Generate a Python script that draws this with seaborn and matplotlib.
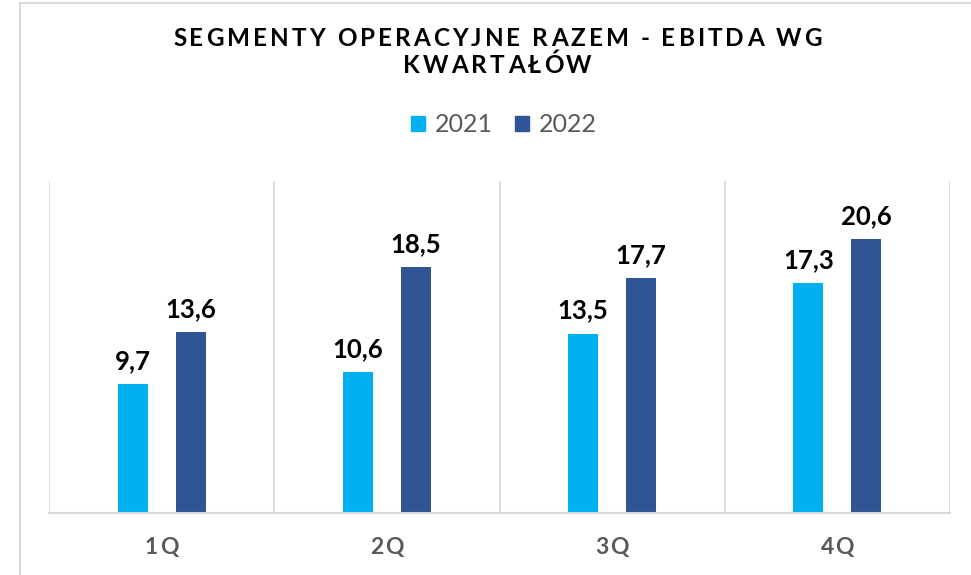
import pandas as pd
import matplotlib.pyplot as plt
import seaborn as sns
from matplotlib.patches import Rectangle
from matplotlib.transforms import IdentityTransform

# Data
quarters = ["1Q", "2Q", "3Q", "4Q"]
years = ["2021", "2022"]
ebitda_2021 = [9.7, 10.6, 13.5, 17.3]
ebitda_2022 = [13.6, 18.5, 17.7, 20.6]
colors = ["#00B0F0", "#2F5597"]
title_lines = ["SEGMENTY OPERACYJNE RAZEM - EBITDA WG", "KWARTAŁÓW"]

df = pd.DataFrame({
    "kwartal": quarters * 2,
    "rok": [years[0]] * 4 + [years[1]] * 4,
    "ebitda": ebitda_2021 + ebitda_2022,
})

W, H = 971, 575
sns.set_theme(style="white")
plt.rcParams["font.family"] = ["Lato", "DejaVu Sans"]

fig = plt.figure(figsize=(W / 100, H / 100), dpi=100)
fig.patch.set_facecolor("white")
ax = fig.add_axes([49 / W, 1 - 513 / H, (950 - 49) / W, (513 - 181) / H])

sns.barplot(data=df, x="kwartal", y="ebitda", hue="rok", palette=colors,
            width=0.516, gap=0.485, saturation=1, linewidth=0,
            legend=False, ax=ax)

ax.set_xlim(-0.5, 3.5)
ax.set_ylim(0, 25)
ax.set_xlabel("")
ax.set_ylabel("")
ax.set_xticks([])
ax.set_yticks([])
for s in ["left", "right", "top"]:
    ax.spines[s].set_visible(False)
ax.spines["bottom"].set_color("#D9D9D9")
ax.spines["bottom"].set_linewidth(1.5)
for xb in [-0.5, 0.5, 1.5, 2.5, 3.5]:
    ax.axvline(xb, color="#D9D9D9", lw=1.3, zorder=0)

# value labels
for cont in ax.containers:
    ax.bar_label(cont, labels=[f"{v:.1f}".replace(".", ",") for v in cont.datavalues],
                 padding=8, fontsize=18.5, fontweight="bold", color="black")

# outer border of the chart area
fig.patches.append(Rectangle((20, -20), 1100, H - 3 + 20, transform=IdentityTransform(),
                             fill=False, edgecolor="#D9D9D9", lw=1.5, figure=fig))

renderer = fig.canvas.get_renderer()


def text_width(t, size, weight):
    tt = fig.text(0, 0, t, fontsize=size, fontweight=weight)
    w = tt.get_window_extent(renderer).width
    tt.remove()
    return w


# letter spaced text, centred at x (pixels), baseline at y (pixels from bottom)
def spaced_text(x, y, s, spacing, size, color, weight="bold"):
    base = text_width("HH", size, weight)
    offs = [text_width("H" + s[:i] + "H", size, weight) - base + i * spacing for i in range(len(s))]
    total = text_width("H" + s + "H", size, weight) - base + (len(s) - 1) * spacing
    x0 = x - total / 2
    for ch, off in zip(s, offs):
        if ch != " ":
            fig.text(x0 + off, y, ch, transform=IdentityTransform(), fontsize=size,
                     fontweight=weight, color=color, ha="left", va="baseline")


# title
tsize = 17.5
natural = text_width("H" + title_lines[0] + "H", tsize, "bold") - text_width("HH", tsize, "bold")
tspacing = (649 - natural) / (len(title_lines[0]) - 1)
spaced_text(497.5, H - 46, title_lines[0], tspacing, tsize, "black")
spaced_text(497.5, H - 73, title_lines[1], tspacing, tsize, "black")

# category labels
for i, q in enumerate(quarters):
    xc = ax.transData.transform((i, 0))[0]
    spaced_text(xc, H - 554, q, 1.5, 16.5, "#595959")

# legend
handles = [Rectangle((0, 0), 1, 1, color=c) for c in colors]
fig.legend(handles, years, loc="center", bbox_to_anchor=(504 / W, 1 - 125 / H),
           ncol=2, frameon=False, fontsize=18, labelcolor="#595959",
           handlelength=0.55, handleheight=0.55, handletextpad=0.4,
           columnspacing=0.9)

fig.savefig("out.png", dpi=100)
